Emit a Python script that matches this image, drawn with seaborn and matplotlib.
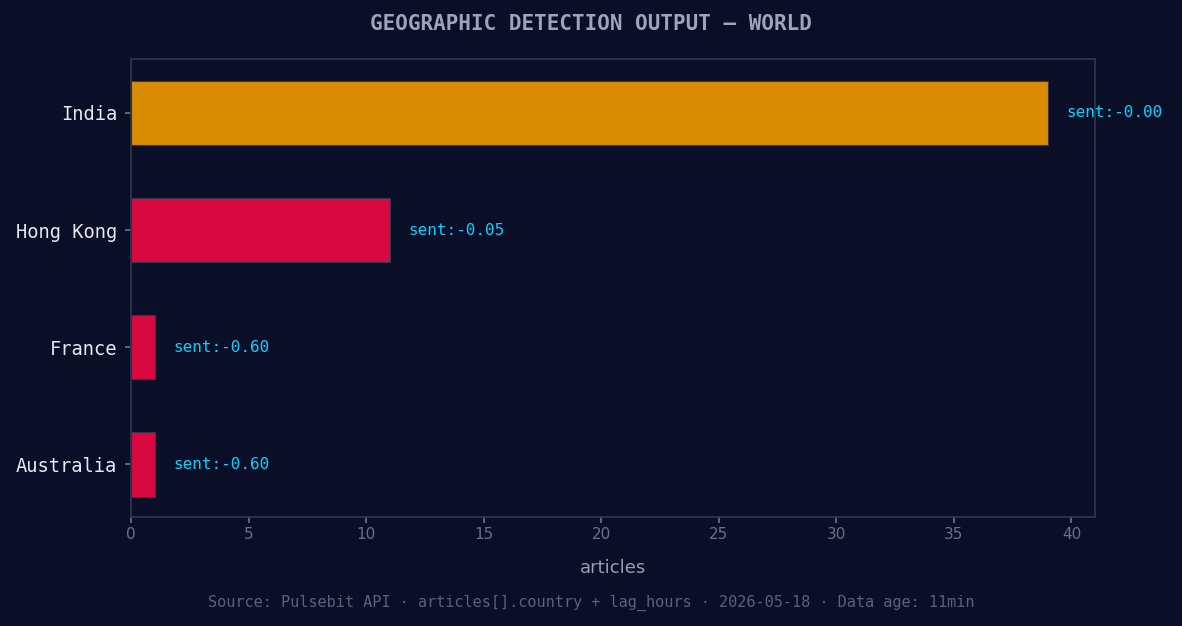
import matplotlib
matplotlib.use("Agg")
import matplotlib.pyplot as plt
import seaborn as sns
import pandas as pd

countries = ["India", "Hong Kong", "France", "Australia"]
articles = [39, 11, 1, 1]
sentiment = [-0.00, -0.05, -0.60, -0.60]
colors = ["#d98b02", "#d8093f", "#d8093f", "#d8093f"]

bg = "#0a0e27"
sns.set_theme(style="dark")
fig = plt.figure(figsize=(11.82, 6.26), dpi=100, facecolor=bg)
ax = fig.add_axes([131/1182, 1-517/626, (1095-131)/1182, (517-59)/626])
ax.set_facecolor(bg)
df = pd.DataFrame({"country": countries, "articles": articles})
sns.barplot(data=df, y="country", x="articles", hue="country", palette=colors, saturation=1,
            legend=False, ax=ax, width=0.55, edgecolor="#333850", linewidth=0.8, orient="h")
for i, (a, s) in enumerate(zip(articles, sentiment)):
    ax.text(a + 0.8, i, f"sent:{s:.2f}", color="#00d4ff", va="center",
            family="DejaVu Sans Mono", fontsize=11.5)
ax.set_xlim(0, 41)
ax.set_ylim(3.45, -0.46)
ax.set_xticks(range(0, 41, 5))
ax.set_ylabel("")
ax.set_xlabel("articles", color="#9a9fae", fontsize=13, labelpad=12)
ax.tick_params(axis="x", colors="#6b7085", labelsize=11, length=4, color="#6b7085", bottom=True)
ax.tick_params(axis="y", colors="#6b7085", length=4, left=True, pad=6)
for lab in ax.get_yticklabels():
    lab.set_color("#e8e8f0"); lab.set_family("DejaVu Sans Mono"); lab.set_fontsize(13.5)
for sp in ax.spines.values():
    sp.set_color("#2e3350"); sp.set_visible(True)
ax.grid(False)
fig.text(0.5, 1-24/626, "GEOGRAPHIC DETECTION OUTPUT — WORLD", ha="center", va="center",
         color="#a0a4b4", fontsize=15, fontweight="bold", family="DejaVu Sans Mono")
fig.text(0.5, 1-603/626, "Source: Pulsebit API · articles[].country + lag_hours · 2026-05-18 · Data age: 11min",
         ha="center", va="center", color="#5c6178", fontsize=11, family="DejaVu Sans Mono")
fig.savefig("out.png", facecolor=bg)
